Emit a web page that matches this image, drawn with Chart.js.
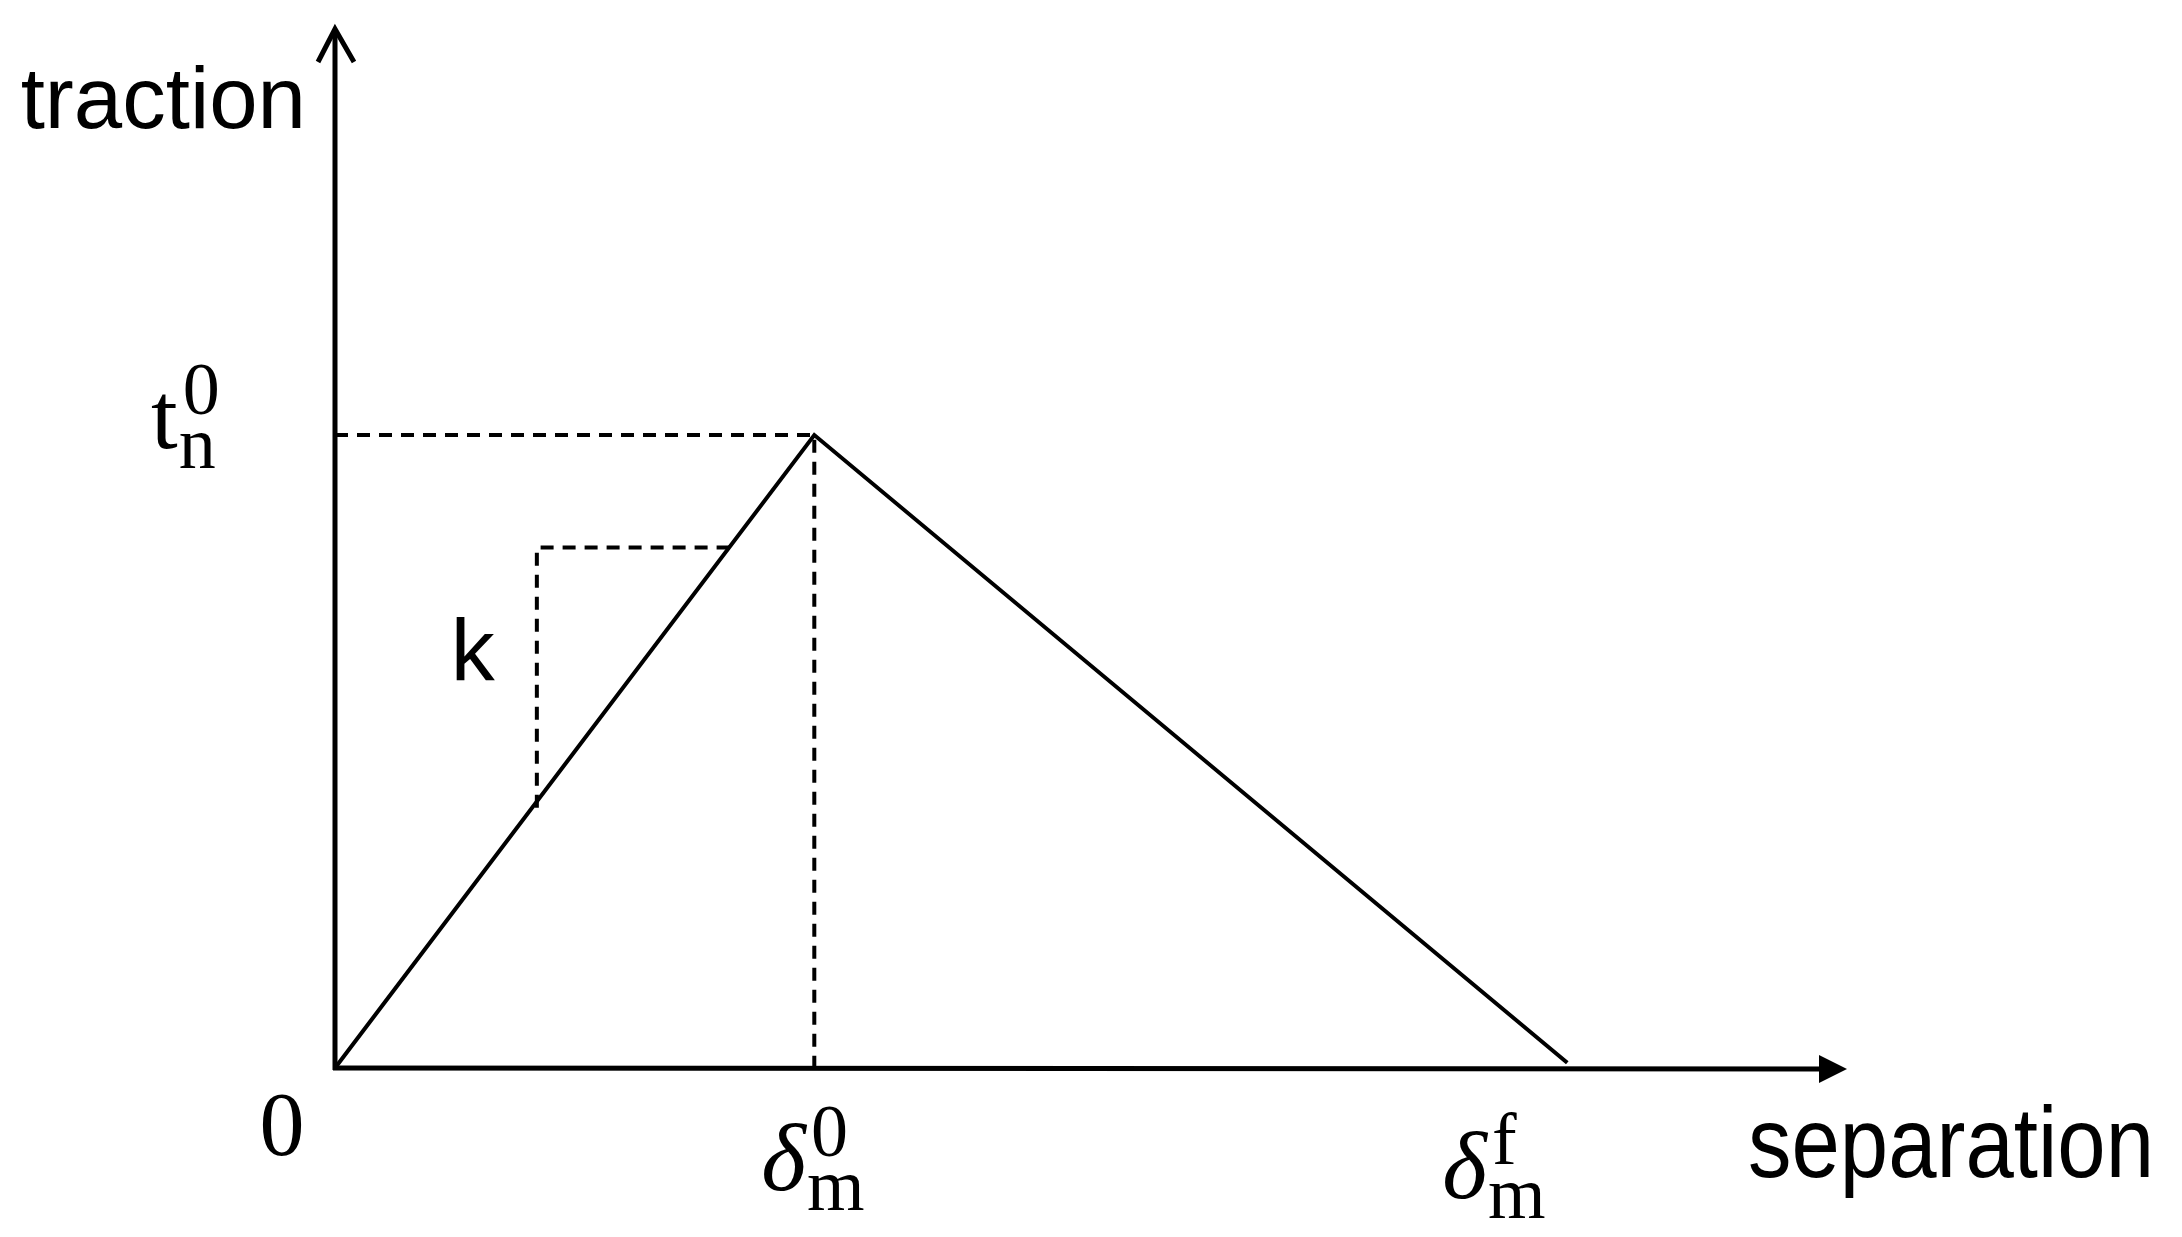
<!DOCTYPE html>
<html>
<head>
<meta charset="utf-8">
<title>traction-separation</title>
<script src="https://cdn.jsdelivr.net/npm/chart.js@4.4.0/dist/chart.umd.min.js"></script>
<style>
  html, body { margin: 0; padding: 0; background: #fff; }
  canvas { display: block; }
</style>
</head>
<body>
<canvas id="chart" width="2182" height="1237"></canvas>
<script>
// Data (axis units 0..100)
const axisMax = [100, 100];
const separation = [0, 31.7, 81.5];
const traction = [0, 60.8, 0.5];
const peakGuideX = [0, 31.7, 31.7];
const peakGuideY = [60.8, 60.8, 0];
const slopeX = [13.35, 13.35, 26.1];
const slopeY = [25, 50, 50];

// tick labels: [value, base, sup, sub]
const xTickLabels = [
  [31.7, 'δ', '0', 'm'],
  [81.5, 'δ', 'f', 'm']
];
const yTickLabels = [
  [60.8, 't', '0', 'n']
];
const axisTitles = ['separation', 'traction'];
const slopeLabel = 'k';
const originLabel = '0';

const toPoints = (xs, ys) => xs.map((x, i) => ({ x: x, y: ys[i] }));

const lineSet = (xs, ys, dashed, width) => ({
  data: toPoints(xs, ys),
  borderColor: '#000',
  borderWidth: width,
  borderDash: dashed ? [13, 9] : [],
  borderCapStyle: 'butt',
  borderJoinStyle: 'miter',
  pointRadius: 0,
  tension: 0,
  fill: false,
  clip: false
});

// Render
const drawScripted = (ctx, x, y, label, italic) => {
  const [, base, sup, sub] = label;
  ctx.textAlign = 'left';
  ctx.textBaseline = 'alphabetic';
  ctx.font = (italic ? 'italic ' : '') + '96px "Liberation Serif"';
  ctx.fillText(base, x, y);
  const w = ctx.measureText(base).width;
  ctx.font = '74px "Liberation Serif"';
  ctx.fillText(sup, x + w + 5, y - 34);
  ctx.fillText(sub, x + w + 1, y + 20);
};

const diagramPlugin = {
  id: 'diagram',
  afterDatasetsDraw: (chart) => {
    const ctx = chart.ctx;
    const xs = chart.scales.x;
    const ys = chart.scales.y;
    const x0 = xs.getPixelForValue(0);
    const y0 = ys.getPixelForValue(0);
    const xEnd = xs.getPixelForValue(axisMax[0]);
    const yEnd = ys.getPixelForValue(axisMax[1]);

    ctx.save();
    ctx.strokeStyle = '#000';
    ctx.fillStyle = '#000';
    ctx.lineWidth = 5;

    // x axis with filled arrow
    ctx.beginPath();
    ctx.moveTo(x0 - 2, y0);
    ctx.lineTo(xEnd - 20, y0 + 1);
    ctx.stroke();
    ctx.beginPath();
    ctx.moveTo(xEnd, y0 + 1);
    ctx.lineTo(xEnd - 28, y0 - 13);
    ctx.lineTo(xEnd - 28, y0 + 15);
    ctx.closePath();
    ctx.fill();

    // y axis with open arrow
    ctx.beginPath();
    ctx.moveTo(x0, y0 + 2);
    ctx.lineTo(x0, yEnd + 2);
    ctx.stroke();
    ctx.beginPath();
    ctx.lineJoin = 'miter';
    ctx.moveTo(x0 - 17, yEnd + 35);
    ctx.lineTo(x0, yEnd + 2);
    ctx.lineTo(x0 + 19, yEnd + 35);
    ctx.stroke();

    // axis titles
    ctx.textAlign = 'left';
    ctx.textBaseline = 'alphabetic';
    ctx.font = '100px "Liberation Sans", Arial, sans-serif';
    ctx.fillText(axisTitles[0], xEnd - 99, y0 + 109, 406);
    ctx.font = '87px "Liberation Sans", Arial, sans-serif';
    ctx.textAlign = 'right';
    ctx.fillText(axisTitles[1], x0 - 29, yEnd + 101);

    // origin
    ctx.textAlign = 'center';
    ctx.font = '90px "Liberation Serif"';
    ctx.fillText(originLabel, x0 - 53, y0 + 87);

    // tick labels
    const offs = [[-53, 122], [-125, 130]];
    xTickLabels.forEach((t, i) => {
      drawScripted(ctx, xs.getPixelForValue(t[0]) + offs[i][0], y0 + offs[i][1], t, true);
    });
    yTickLabels.forEach((t) => {
      drawScripted(ctx, x0 - 184, ys.getPixelForValue(t[0]) + 13, t, false);
    });

    // slope label
    ctx.textAlign = 'left';
    ctx.font = '88px "Liberation Sans", Arial, sans-serif';
    ctx.fillText(slopeLabel, xs.getPixelForValue(slopeX[0]) - 86, ys.getPixelForValue(slopeY[0]) - 128);
    ctx.restore();
  }
};

const renderDiagram = () => {
  const ctx = document.getElementById('chart');
  new Chart(ctx, {
    type: 'scatter',
    data: {
      datasets: [
        lineSet(separation, traction, false, 4),
        lineSet(peakGuideX, peakGuideY, true, 4),
        lineSet(slopeX, slopeY, true, 4)
      ]
    },
    options: {
      responsive: false,
      devicePixelRatio: 1,
      animation: false,
      showLine: true,
      layout: { padding: { left: 335, right: 335, top: 27, bottom: 169 } },
      plugins: { legend: { display: false }, tooltip: { enabled: false } },
      scales: {
        x: { type: 'linear', min: 0, max: axisMax[0], display: false },
        y: { type: 'linear', min: 0, max: axisMax[1], display: false }
      }
    },
    plugins: [diagramPlugin]
  });
};

// Main
renderDiagram();
</script>
</body>
</html>
